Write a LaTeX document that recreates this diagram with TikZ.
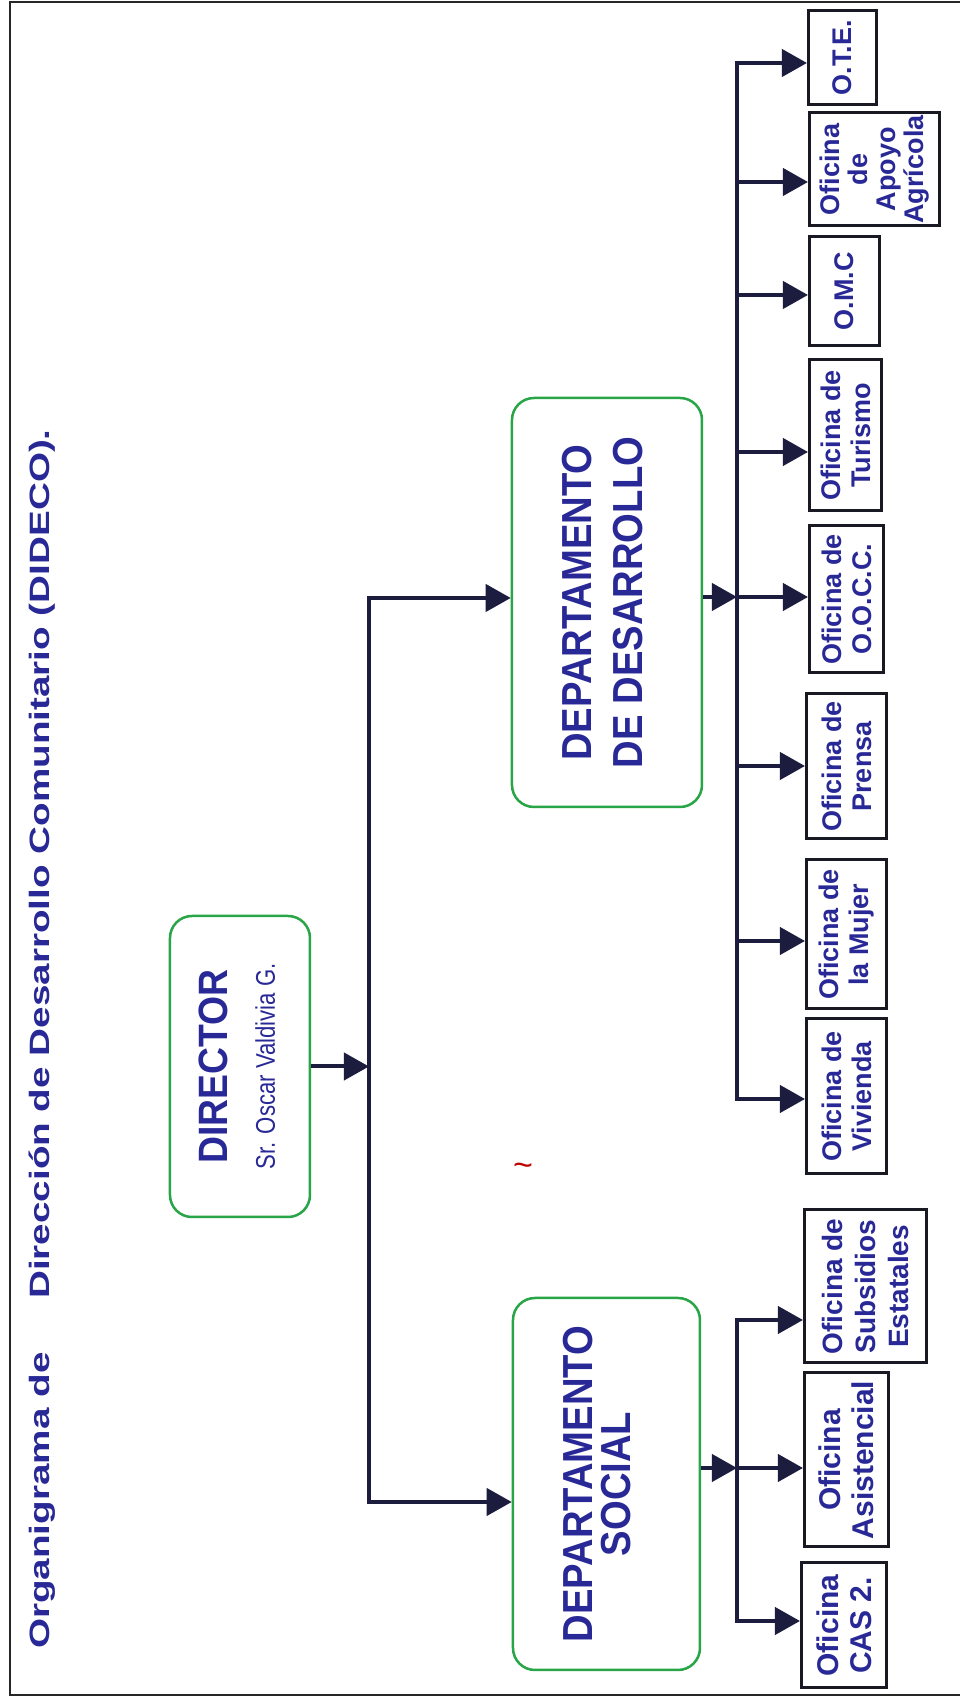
\documentclass[tikz,border=0pt]{standalone}
\usepackage{fontspec}
\setmainfont{Liberation Sans}
\newfontfamily\titlefont[FakeStretch=1.38]{Liberation Sans}
\newfontfamily\deptfont[FakeStretch=0.91]{Liberation Sans}
\newfontfamily\namefont[FakeStretch=0.82]{Liberation Sans}
\usepackage{tikz}
\usetikzlibrary{positioning,arrows.meta}
\definecolor{orgblue}{RGB}{40,40,150}
\definecolor{orggreen}{RGB}{40,165,70}
\definecolor{linenavy}{RGB}{28,28,62}
\definecolor{boxline}{RGB}{25,25,35}

\begin{document}
\begin{tikzpicture}[rotate=90, transform shape, x=1pt, y=1pt,
    arr/.style={draw=linenavy, line width=4pt, -{Triangle[length=25pt,width=27pt]}},
    trunk/.style={draw=linenavy, line width=4pt, line cap=rect},
    framel/.style={draw=black!85, line width=2pt},
    dept/.style={draw=orggreen, line width=2.5pt, rounded corners=22pt, text=orgblue, align=center},
    office/.style={draw=boxline, line width=3pt, text=orgblue, align=center, inner sep=1pt,
        anchor=north, font=\bfseries\fontsize{27}{30}\selectfont}]

    \fill[white] (0,0) rectangle (1701,960);
    \useasboundingbox (0,0) rectangle (1701,960);
    \draw[framel] (6,0) -- (6,950) -- (1699,950) -- (1699,0);

    % title
    \node[anchor=base west, inner sep=0pt, text=orgblue,
        font=\titlefont\bfseries\fontsize{28}{30}\selectfont] (title1) at (52,910) {Organigrama de};
    \node[anchor=base west, inner sep=0pt, text=orgblue,
        font=\titlefont\bfseries\fontsize{28}{30}\selectfont] (title2) at (402,910) {Dirección de Desarrollo Comunitario (DIDECO).};

    % director and departments
    \node[dept, minimum width=301pt, minimum height=140pt, text depth=6pt,
        font=\fontsize{27}{47}\selectfont] (dir) at (634.5,720)
        {{\deptfont\bfseries\fontsize{41}{47}\selectfont DIRECTOR}\\{\namefont Sr. Oscar Valdivia G.}};
    \node[dept, minimum width=409pt, minimum height=190pt, text depth=9pt,
        font=\deptfont\bfseries\fontsize{42}{51}\selectfont] (des) at (1098.5,353) {DEPARTAMENTO\\DE DESARROLLO};
    \node[dept, minimum width=372pt, minimum height=187pt, text depth=20pt,
        font=\deptfont\bfseries\fontsize{42}{38}\selectfont] (soc) at (217,353.5) {DEPARTAMENTO\\SOCIAL};

    % offices
    \node[office, minimum width=125pt, minimum height=85pt, font=\bfseries\fontsize{30}{33}\selectfont] (cas) at (75.5,160) {Oficina\\CAS 2.};
    \node[office, minimum width=174pt, minimum height=84pt, font=\bfseries\fontsize{30}{33}\selectfont] (asi) at (241,157) {Oficina\\Asistencial};
    \node[office, minimum width=153pt, minimum height=122pt, font=\bfseries\fontsize{28}{33}\selectfont] (sub) at (414.5,157) {Oficina de\\Subsidios\\Estatales};
    \node[office, minimum width=155pt, minimum height=80pt] (viv) at (604.5,155) {Oficina de\\Vivienda};
    \node[office, minimum width=149pt, minimum height=80pt] (muj) at (766.5,155) {Oficina de\\la Mujer};
    \node[office, minimum width=145pt, minimum height=80pt] (pre) at (934.5,155) {Oficina de\\Prensa};
    \node[office, minimum width=147pt, minimum height=74pt] (oocc) at (1101.5,152) {Oficina de\\O.O.C.C.};
    \node[office, minimum width=151pt, minimum height=72pt] (tur) at (1265.5,152) {Oficina de\\Turismo};
    \node[office, minimum width=109pt, minimum height=70pt] (omc) at (1409.5,152) {O.M.C};
    \node[office, minimum width=113pt, minimum height=130pt, font=\bfseries\fontsize{27}{28}\selectfont] (apo) at (1531.5,152) {Oficina\\de\\Apoyo\\Agrícola};
    \node[office, minimum width=94pt, minimum height=68pt] (ote) at (1643,153) {O.T.E.};

    % stray mark on the sheet
    \node[rotate=-90, inner sep=0pt, text=red!75!black, font=\fontsize{34}{34}\selectfont] (mark) at (531,437) {\textasciitilde};

    % branch points
    \coordinate (tsoc) at (199,591);
    \coordinate (tdes) at (1103,591);
    \coordinate (bcas) at (80,223);
    \coordinate (basi) at (233,223);
    \coordinate (bsub) at (381,223);
    \coordinate (bviv) at (602,223);
    \coordinate (bmuj) at (760,223);
    \coordinate (bpre) at (935,223);
    \coordinate (boocc) at (1104,223);
    \coordinate (btur) at (1249,223);
    \coordinate (bomc) at (1406,223);
    \coordinate (bapo) at (1519,223);
    \coordinate (bote) at (1638,223);

    \draw[trunk] (tsoc) -- (tdes);
    \draw[trunk] (bcas) -- (bsub);
    \draw[trunk] (bviv) -- (bote);

    \path
        (dir.south) edge[arr] (dir.south |- tdes)
        (tdes) edge[arr] (tdes |- des.north)
        (tsoc) edge[arr] (tsoc |- soc.north)
        (des.south -| boocc) edge[arr] (boocc)
        (soc.south -| basi) edge[arr] (basi)
        (bcas) edge[arr] (bcas |- cas.north)
        (basi) edge[arr] (basi |- asi.north)
        (bsub) edge[arr] (bsub |- sub.north)
        (bviv) edge[arr] (bviv |- viv.north)
        (bmuj) edge[arr] (bmuj |- muj.north)
        (bpre) edge[arr] (bpre |- pre.north)
        (boocc) edge[arr] (boocc |- oocc.north)
        (btur) edge[arr] (btur |- tur.north)
        (bomc) edge[arr] (bomc |- omc.north)
        (bapo) edge[arr] (bapo |- apo.north)
        (bote) edge[arr] (bote |- ote.north);

\end{tikzpicture}
\end{document}
